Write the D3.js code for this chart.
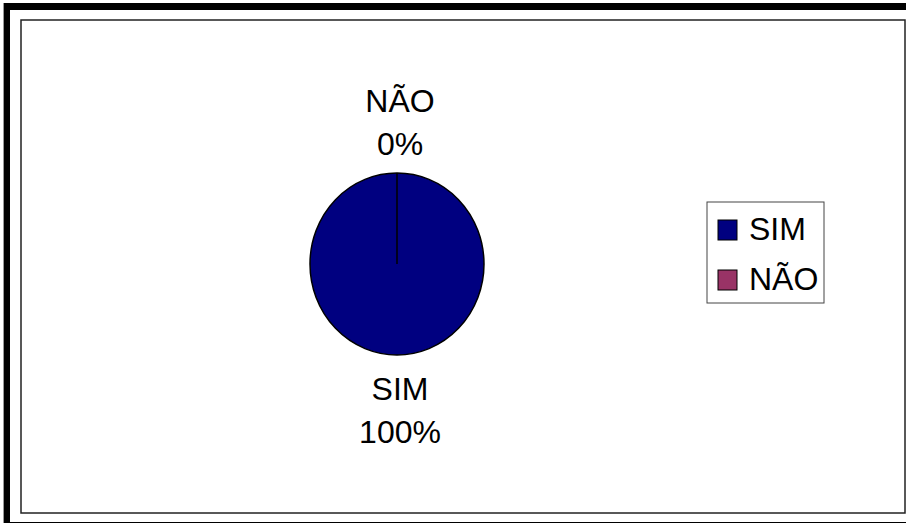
<!DOCTYPE html>
<html>
<head>
<meta charset="utf-8">
<script src="https://cdn.jsdelivr.net/npm/d3@7"></script>
<style>
  body { margin: 0; background: #fff; }
  text { font-family: "Liberation Sans", Arial, sans-serif; }
</style>
</head>
<body>
<svg id="chart" width="910" height="525"></svg>
<script>
var categories = ["SIM", "NÃO"];
var values = [100, 0];
var labels = ["100%", "0%"];
var colors = ["#000080", "#993366"];

var svg = d3.select("#chart");

// frame, thick on top and left
svg.append("rect").attr("x", 4).attr("y", 3).attr("width", 902).attr("height", 7).attr("fill", "#000");
svg.append("rect").attr("x", 4).attr("y", 3).attr("width", 6).attr("height", 520).attr("fill", "#000");
svg.append("rect").attr("x", 3).attr("y", 3).attr("width", 1).attr("height", 520).attr("fill", "#999");
svg.append("line").attr("x1", 4).attr("x2", 906).attr("y1", 522.5).attr("y2", 522.5)
  .attr("stroke", "#000").attr("stroke-width", 1.2);
svg.append("rect").attr("x", 21).attr("y", 20).attr("width", 884).attr("height", 493)
  .attr("fill", "none").attr("stroke", "#222").attr("stroke-width", 1.5);

var cx = 397, cy = 264, r = 87, squash = 91 / 87;

var pie = d3.pie().sort(null).value(function(d){ return d; });
var arcs = pie(values);
var arc = d3.arc().innerRadius(0).outerRadius(r);

var g = svg.append("g").attr("transform", "translate(" + cx + "," + cy + ") scale(1," + squash + ")");
g.selectAll("path")
  .data(arcs).enter().append("path")
    .attr("d", arc)
    .attr("fill", function(d, i){ return colors[i]; })
    .attr("stroke", "#000")
    .attr("stroke-width", 1.5)
    .attr("vector-effect", "non-scaling-stroke");

// labels outside the pie
arcs.forEach(function(d, i) {
  var a = (d.startAngle + d.endAngle) / 2;
  var ca = Math.cos(a), sa = Math.sin(a);
  var px = cx + 3 + sa * (r + 20);
  var py = cy - ca * (r + 20) * squash;
  var t = svg.append("text")
    .attr("text-anchor", "middle")
    .attr("font-size", "32px")
    .attr("fill", "#000");
  var y1 = ca > 0 ? py - 40 : py + 24;
  t.append("tspan").attr("x", px).attr("y", y1).text(categories[i]);
  t.append("tspan").attr("x", px).attr("y", y1 + 43).text(labels[i]);
});

// legend
var leg = svg.append("g").attr("transform", "translate(707,202)");
leg.append("rect").attr("width", 117).attr("height", 101)
  .attr("fill", "#fff").attr("stroke", "#444").attr("stroke-width", 1);
var items = leg.selectAll(".item").data(categories).enter().append("g")
  .attr("class", "item")
  .attr("transform", function(d, i){ return "translate(11," + (18 + i * 50) + ")"; });
items.append("rect").attr("width", 19).attr("height", 20)
  .attr("fill", function(d, i){ return colors[i]; })
  .attr("stroke", "#000").attr("stroke-width", 1);
items.append("text").attr("x", 31).attr("y", 20).attr("font-size", "32px").text(function(d){ return d; });
</script>
</body>
</html>
